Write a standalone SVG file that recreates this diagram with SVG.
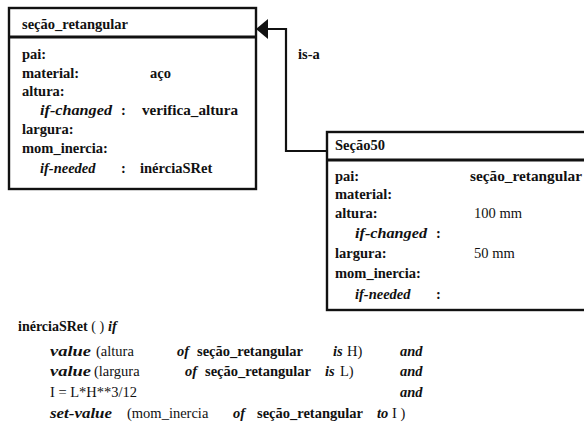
<svg xmlns="http://www.w3.org/2000/svg" width="584" height="429" viewBox="0 0 584 429" font-family="'Liberation Serif', 'DejaVu Serif', 'Times New Roman', Times, serif">
<style>
  text { font-family: "Liberation Serif", "DejaVu Serif", "Times New Roman", Times, serif; font-size: 14.5px; fill: #111; }
  .b { font-weight: bold; }
  .bi { font-weight: bold; font-style: italic; }
  .r { font-weight: normal; }
  .box { fill: #fff; stroke: #111; stroke-width: 2.4; }
  .div { stroke: #111; stroke-width: 3; }
  .conn { fill: none; stroke: #111; stroke-width: 2.2; }
</style>
<rect width="584" height="429" fill="#fff"/>

<g id="connectors">
  <path class="conn" d="M 266 29 H 286 V 151 H 327"/>
  <polygon points="256,29 268,19 268,39" fill="#111"/>
  <text class="b" x="298" y="59">is-a</text>
</g>

<g id="secao_retangular">
  <rect class="box" x="9" y="8" width="247" height="181"/>
  <line class="div" x1="9" y1="37" x2="256" y2="37"/>
  <text class="b" x="22" y="29">seção_retangular</text>
  <text class="b" x="22" y="59">pai:</text>
  <text class="b" x="22" y="78">material:</text>
  <text class="b" x="150" y="78">aço</text>
  <text class="b" x="22" y="96">altura:</text>
  <text class="bi" x="40" y="115" textLength="72" lengthAdjust="spacingAndGlyphs">if-changed</text>
  <text class="b" x="121" y="115">:</text>
  <text class="b" x="142" y="115" textLength="96" lengthAdjust="spacingAndGlyphs">verifica_altura</text>
  <text class="b" x="22" y="134">largura:</text>
  <text class="b" x="22" y="153">mom_inercia:</text>
  <text class="bi" x="40" y="173">if-needed</text>
  <text class="b" x="121" y="173">:</text>
  <text class="b" x="140" y="173">inérciaSRet</text>
</g>

<g id="secao50">
  <rect class="box" x="327" y="132" width="270" height="178"/>
  <line class="div" x1="327" y1="160" x2="597" y2="160"/>
  <text class="b" x="335" y="150">Seção50</text>
  <text class="b" x="335" y="181">pai:</text>
  <text class="b" x="470" y="181" textLength="112" lengthAdjust="spacingAndGlyphs">seção_retangular</text>
  <text class="b" x="335" y="199">material:</text>
  <text class="b" x="335" y="218">altura:</text>
  <text class="r" x="474" y="218">100 mm</text>
  <text class="bi" x="355" y="238" textLength="72" lengthAdjust="spacingAndGlyphs">if-changed</text>
  <text class="b" x="436" y="238">:</text>
  <text class="b" x="335" y="258">largura:</text>
  <text class="r" x="474" y="258">50 mm</text>
  <text class="b" x="335" y="278">mom_inercia:</text>
  <text class="bi" x="355" y="299">if-needed</text>
  <text class="b" x="436" y="299">:</text>
</g>

<g id="rule">
  <text class="b" x="18" y="331" style="font-size:14px">inérciaSRet<tspan class="r"> ( )</tspan></text>
  <text class="bi" x="108" y="331">if</text>

  <text class="bi" x="50" y="356" textLength="41" lengthAdjust="spacingAndGlyphs">value</text>
  <text class="r" x="96" y="356">(altura</text>
  <text class="bi" x="177" y="356">of</text>
  <text class="b" x="197" y="356">seção_retangular</text>
  <text class="bi" x="333" y="356">is</text>
  <text class="r" x="347" y="356">H)</text>
  <text class="bi" x="400" y="356">and</text>

  <text class="bi" x="50" y="376" textLength="41" lengthAdjust="spacingAndGlyphs">value</text>
  <text class="r" x="94" y="376">(largura</text>
  <text class="bi" x="185" y="376">of</text>
  <text class="b" x="205" y="376">seção_retangular</text>
  <text class="bi" x="325" y="376">is</text>
  <text class="r" x="340" y="376">L)</text>
  <text class="bi" x="400" y="376">and</text>

  <text class="r" x="50" y="397">I = L*H**3/12</text>
  <text class="bi" x="400" y="397">and</text>

  <text class="bi" x="50" y="418" textLength="62" lengthAdjust="spacingAndGlyphs">set-value</text>
  <text class="r" x="127" y="418">(mom_inercia</text>
  <text class="bi" x="233" y="418">of</text>
  <text class="b" x="257" y="418">seção_retangular</text>
  <text class="bi" x="377" y="418">to</text>
  <text class="r" x="392" y="418">I )</text>
</g>
</svg>
